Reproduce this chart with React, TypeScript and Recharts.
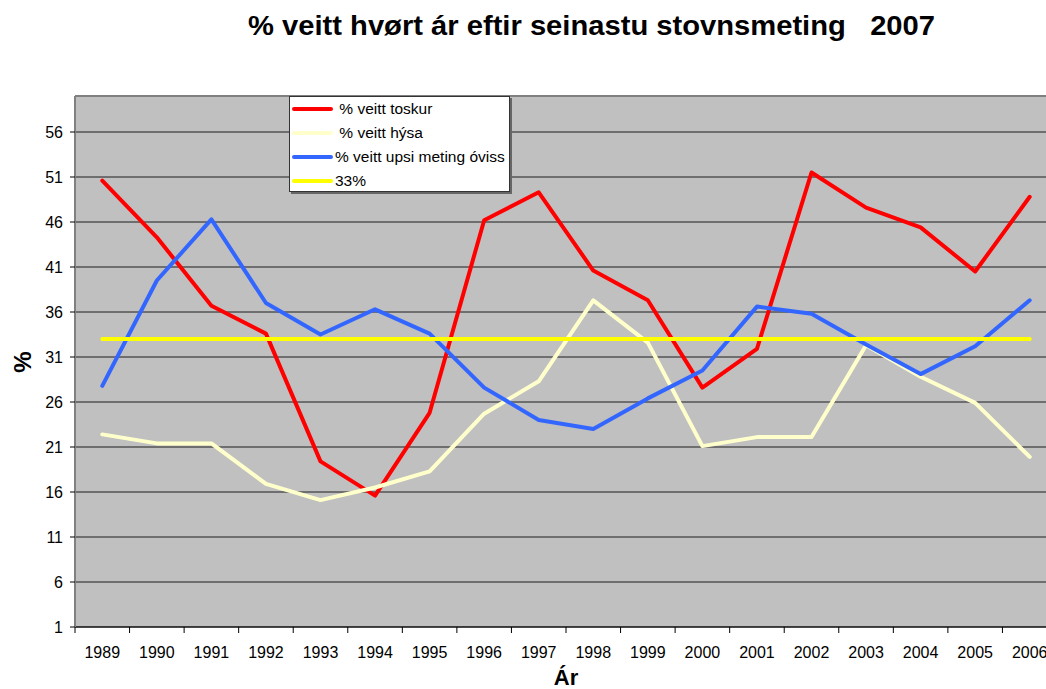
import React from "react";
import {
  LineChart,
  Line,
  XAxis,
  YAxis,
  CartesianGrid,
  Legend,
  ReferenceLine,
} from "recharts";

// years on the category axis
const years = [
  "1989", "1990", "1991", "1992", "1993", "1994", "1995", "1996", "1997",
  "1998", "1999", "2000", "2001", "2002", "2003", "2004", "2005", "2006",
];

// % veitt toskur (cod)
const toskur = [
  50.6, 44.3, 36.7, 33.6, 19.4, 15.6, 24.8, 46.2, 49.3,
  40.6, 37.3, 27.6, 31.9, 51.5, 47.6, 45.4, 40.5, 48.8,
];

// % veitt hýsa (haddock)
const hysa = [
  22.4, 21.4, 21.4, 16.9, 15.1, 16.5, 18.3, 24.7, 28.3,
  37.3, 32.6, 21.1, 22.1, 22.1, 32.3, 28.8, 25.9, 19.9,
];

// % veitt upsi (saithe)
const upsi = [
  27.8, 39.5, 46.3, 37.0, 33.5, 36.3, 33.6, 27.6, 24.0,
  23.0, 26.4, 29.5, 36.6, 35.8, 32.4, 29.1, 32.2, 37.3,
];

// 33% reference series
const mark33 = [
  33, 33, 33, 33, 33, 33, 33, 33, 33,
  33, 33, 33, 33, 33, 33, 33, 33, 33,
];

const yTicks = [1, 6, 11, 16, 21, 26, 31, 36, 41, 46, 51, 56];

// series in the drawing / legend order
const series = [
  { key: "toskur", name: " % veitt toskur", color: "#FF0000" },
  { key: "hysa", name: " % veitt hýsa", color: "#FFFFCC" },
  { key: "upsi", name: "% veitt upsi meting óviss", color: "#3366FF" },
  { key: "mark33", name: "33%", color: "#FFFF00" },
];

const data = years.map((year, i) => ({
  year,
  toskur: toskur[i],
  hysa: hysa[i],
  upsi: upsi[i],
  mark33: mark33[i],
}));

const FONT = '"Liberation Sans", Arial, sans-serif';
const HALF_BAND = 982 / 18 / 2;

// category labels in the middle, tick marks on the borders between years
const renderXTick = ({ x, y, payload }: any) => (
  <g>
    <line x1={x - HALF_BAND} x2={x - HALF_BAND} y1={y - 8} y2={y - 2} stroke="#000" />
    <text x={x} y={y + 23} textAnchor="middle" fontSize={16} fill="#000">
      {payload.value}
    </text>
  </g>
);

// zero-size wrapper so the legend does not take room from the plot
const renderLegend = () => (
  <div style={{ position: "relative", width: 0, height: 0 }}>
    <div
      style={{
        position: "absolute",
        left: 0,
        top: 0,
        width: 219,
        height: 94,
        background: "#fff",
        border: "1px solid #333",
        boxShadow: "2px 2px 0 #666",
        fontSize: 15.5,
        color: "#000",
        fontFamily: FONT,
        textAlign: "left",
      }}
    >
      {series.map((s) => (
        <div key={s.key} style={{ display: "flex", alignItems: "center", height: 24 }}>
          <svg width={44} height={10} style={{ marginLeft: 1, flex: "none" }}>
            <line x1={3} x2={40} y1={5} y2={5} stroke={s.color} strokeWidth={4} strokeLinecap="round" />
          </svg>
          <span style={{ whiteSpace: "pre" }}>{s.name}</span>
        </div>
      ))}
    </div>
  </div>
);

export default function App() {
  return (
    <div
      style={{
        position: "absolute",
        left: 0,
        top: 0,
        width: 1046,
        height: 689,
        overflow: "hidden",
        background: "#fff",
        fontFamily: FONT,
      }}
    >
      <LineChart
        width={1100}
        height={689}
        data={data}
        margin={{ top: 96, right: 43, bottom: 0, left: 0 }}
      >
        <CartesianGrid
          vertical={false}
          stroke="#000"
          strokeOpacity={0.85}
          fill="#C0C0C0"
          fillOpacity={1}
        />
        <XAxis
          dataKey="year"
          height={62}
          padding={{ left: HALF_BAND, right: HALF_BAND }}
          axisLine={{ stroke: "#000" }}
          tickLine={false}
          tick={renderXTick}
          interval={0}
        />
        <YAxis
          width={75}
          type="number"
          domain={[1, 60]}
          ticks={yTicks}
          interval={0}
          axisLine={{ stroke: "#808080", strokeWidth: 2 }}
          tickLine={{ stroke: "#000" }}
          tickSize={5}
          tickMargin={7}
          tick={{ fill: "#000", fontSize: 16 }}
        />
        <ReferenceLine y={60} stroke="#808080" strokeWidth={2} />
        <Legend
          content={renderLegend}
          wrapperStyle={{ left: 289, top: 96, width: 0, height: 0, bottom: "auto", right: "auto" }}
        />
        {series.map((s) => (
          <Line
            key={s.key}
            dataKey={s.key}
            name={s.name}
            stroke={s.color}
            strokeWidth={4}
            strokeLinecap="round"
            strokeLinejoin="round"
            dot={false}
            isAnimationActive={false}
          />
        ))}
      </LineChart>
      <svg
        width={1046}
        height={689}
        style={{ position: "absolute", left: 0, top: 0, pointerEvents: "none" }}
      >
        <text
          x={248}
          y={35}
          fontSize={27}
          fontWeight="bold"
          fill="#000"
          textLength={687}
          lengthAdjust="spacingAndGlyphs"
          style={{ whiteSpace: "pre" }}
        >
          % veitt hvørt ár eftir seinastu stovnsmeting   2007
        </text>
        <text
          x={22}
          y={362}
          fontSize={24}
          fontWeight="bold"
          fill="#000"
          textAnchor="middle"
          dominantBaseline="central"
          transform="rotate(-90 22 362)"
        >
          %
        </text>
        <text x={566} y={685} fontSize={22} fontWeight="bold" fill="#000" textAnchor="middle">
          Ár
        </text>
      </svg>
    </div>
  );
}
